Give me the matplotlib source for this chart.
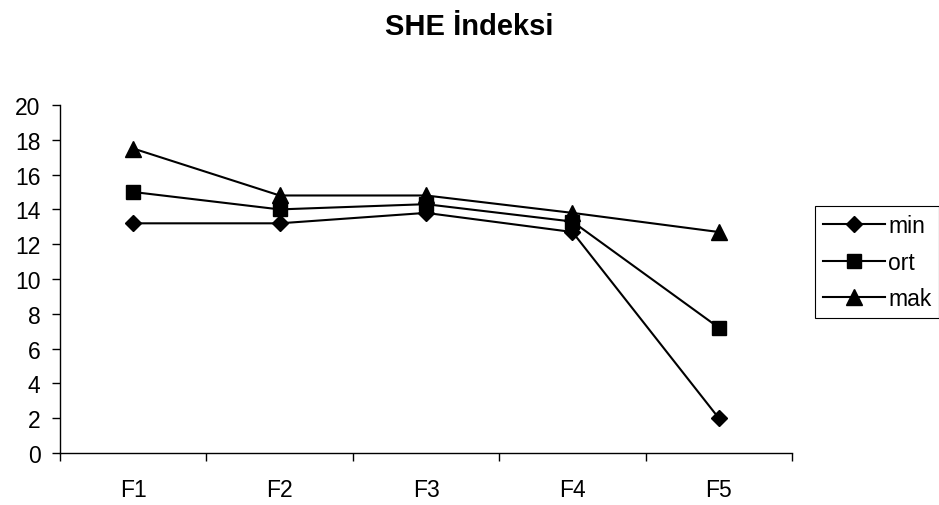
import matplotlib.pyplot as plt

plt.rcParams['font.family'] = ['Liberation Sans', 'DejaVu Sans']

# Data
categories = ['F1', 'F2', 'F3', 'F4', 'F5']
min_vals = [13.2, 13.2, 13.8, 12.7, 2.0]
ort_vals = [15.0, 14.0, 14.3, 13.3, 7.2]
mak_vals = [17.5, 14.8, 14.8, 13.8, 12.7]

fig = plt.figure(figsize=(9.39, 5.06), dpi=100)
ax = fig.add_axes([0.0639, 0.1028, 0.7796, 0.6877])

x = list(range(len(categories)))
ax.plot(x, min_vals, color='black', lw=1.5, marker='D', markersize=8, label='min')
ax.plot(x, ort_vals, color='black', lw=1.5, marker='s', markersize=10, label='ort')
ax.plot(x, mak_vals, color='black', lw=1.5, marker='^', markersize=11, label='mak')

ax.set_xlim(-0.5, len(categories) - 0.5)
ax.set_ylim(0, 20)
ax.set_yticks(range(0, 21, 2))

# category labels centred, tick marks between categories
ax.set_xticks([i - 0.5 for i in range(len(categories) + 1)])
ax.set_xticklabels([])
ax.set_xticks(x, minor=True)
ax.set_xticklabels(categories, minor=True)
ax.tick_params(axis='x', which='minor', length=0, pad=18, labelsize=16.5)
ax.tick_params(axis='x', which='major', length=6, direction='out', width=1)
ax.tick_params(axis='y', length=6, width=1, labelsize=16.5, pad=8)

for s in ['top', 'right']:
    ax.spines[s].set_visible(False)
for s in ['left', 'bottom']:
    ax.spines[s].set_color('black')
    ax.spines[s].set_linewidth(1)

fig.suptitle('SHE İndeksi', fontsize=21, fontweight='bold', x=0.5, y=0.975)

leg = ax.legend(loc='upper left', bbox_to_anchor=(1.031, 0.71), fontsize=16.5,
                frameon=True, fancybox=False, framealpha=1, handlelength=2.7,
                borderpad=0.35, labelspacing=0.6, handletextpad=0.15,
                borderaxespad=0)
leg.get_frame().set_edgecolor('black')
leg.get_frame().set_linewidth(0.8)

plt.savefig('out.png', dpi=100)
